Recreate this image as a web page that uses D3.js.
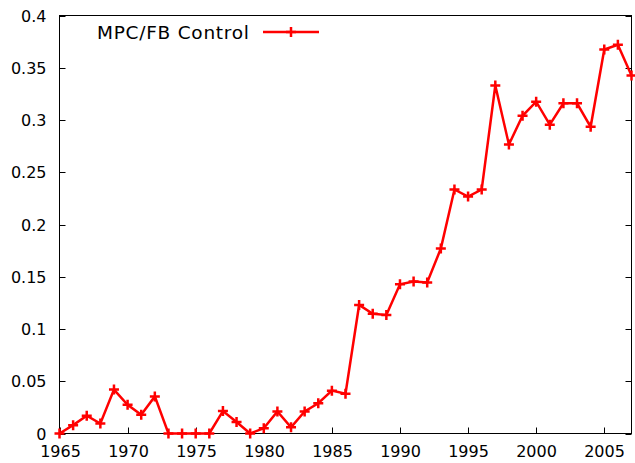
<!DOCTYPE html>
<html>
<head>
<meta charset="utf-8">
<script src="https://cdn.jsdelivr.net/npm/d3@7"></script>
<style>
  body { margin: 0; background: #fff; }
  text { font-family: "DejaVu Sans", sans-serif; fill: #000; }
</style>
</head>
<body>
<div id="chart"></div>
<script>
// yearly values of the single series
let years = d3.range(1965, 2008);
let values = [0, 0.008, 0.017, 0.0095, 0.042, 0.0275, 0.018, 0.0355, 0, 0, 0, 0,
  0.0215, 0.011, 0, 0.005, 0.021, 0.006, 0.021, 0.029, 0.041, 0.038,
  0.123, 0.1145, 0.1135, 0.1428, 0.1455, 0.1445, 0.177, 0.2335, 0.2268, 0.2335,
  0.333, 0.2765, 0.304, 0.3175, 0.2955, 0.316, 0.316, 0.2935, 0.3675, 0.372, 0.3425];
let xTicks = [1965, 1970, 1975, 1980, 1985, 1990, 1995, 2000, 2005];
let yTicks = [0, 0.05, 0.1, 0.15, 0.2, 0.25, 0.3, 0.35, 0.4];
let seriesName = "MPC/FB Control";

let width = 635, height = 463;
let plotLeft = 59.5, plotRight = 631.5, plotTop = 15.5, plotBottom = 433.5;

let svg = d3.select("#chart").append("svg")
  .attr("width", width).attr("height", height);

let x = d3.scaleLinear().domain([1965, 2007]).range([plotLeft, plotRight]);
let y = d3.scaleLinear().domain([0, 0.4]).range([plotBottom, plotTop]);

// border
svg.append("rect")
  .attr("x", plotLeft).attr("y", plotTop)
  .attr("width", plotRight - plotLeft).attr("height", plotBottom - plotTop)
  .attr("fill", "none").attr("stroke", "#000").attr("stroke-width", 1);

let tickLen = 6;
// y ticks, left and right, pointing inward
let gy = svg.append("g");
yTicks.forEach(function(t) {
  let yy = Math.round(y(t)) + 0.5;
  gy.append("line").attr("x1", plotLeft).attr("x2", plotLeft + tickLen)
    .attr("y1", yy).attr("y2", yy).attr("stroke", "#000");
  gy.append("line").attr("x1", plotRight).attr("x2", plotRight - tickLen)
    .attr("y1", yy).attr("y2", yy).attr("stroke", "#000");
  gy.append("text").text(d3.format("")(t))
    .attr("x", plotLeft - 13).attr("y", yy)
    .attr("text-anchor", "end").attr("dominant-baseline", "central")
    .attr("font-size", 16);
});

// x ticks at the bottom
let gx = svg.append("g");
xTicks.forEach(function(t) {
  let xx = Math.round(x(t)) + 0.5;
  gx.append("line").attr("x1", xx).attr("x2", xx)
    .attr("y1", plotBottom).attr("y2", plotBottom - tickLen).attr("stroke", "#000");
  gx.append("text").text(t)
    .attr("x", xx).attr("y", 451)
    .attr("text-anchor", "middle").attr("dominant-baseline", "central")
    .attr("font-size", 16);
});

let data = years.map(function(yr, i) { return [yr, values[i]]; });

let line = d3.line()
  .x(function(d) { return x(d[0]); })
  .y(function(d) { return y(d[1]); });

svg.append("path").datum(data)
  .attr("d", line)
  .attr("fill", "none").attr("stroke", "#ff0000")
  .attr("stroke-width", 2.5).attr("stroke-linejoin", "miter");

function plus(g, cx, cy) {
  let s = 5;
  g.append("path")
    .attr("d", "M" + (cx - s) + "," + cy + "H" + (cx + s) + "M" + cx + "," + (cy - s) + "V" + (cy + s))
    .attr("stroke", "#ff0000").attr("stroke-width", 2.5).attr("fill", "none");
}

let marks = svg.append("g");
data.forEach(function(d) { plus(marks, x(d[0]), y(d[1])); });

// legend
let leg = svg.append("g");
leg.append("text").text(seriesName)
  .attr("x", 249).attr("y", 32)
  .attr("text-anchor", "end").attr("dominant-baseline", "central")
  .attr("font-size", 18.5).attr("textLength", 152);
leg.append("line").attr("x1", 263).attr("x2", 319).attr("y1", 32).attr("y2", 32)
  .attr("stroke", "#ff0000").attr("stroke-width", 2.5);
plus(leg, 291, 32);
</script>
</body>
</html>
